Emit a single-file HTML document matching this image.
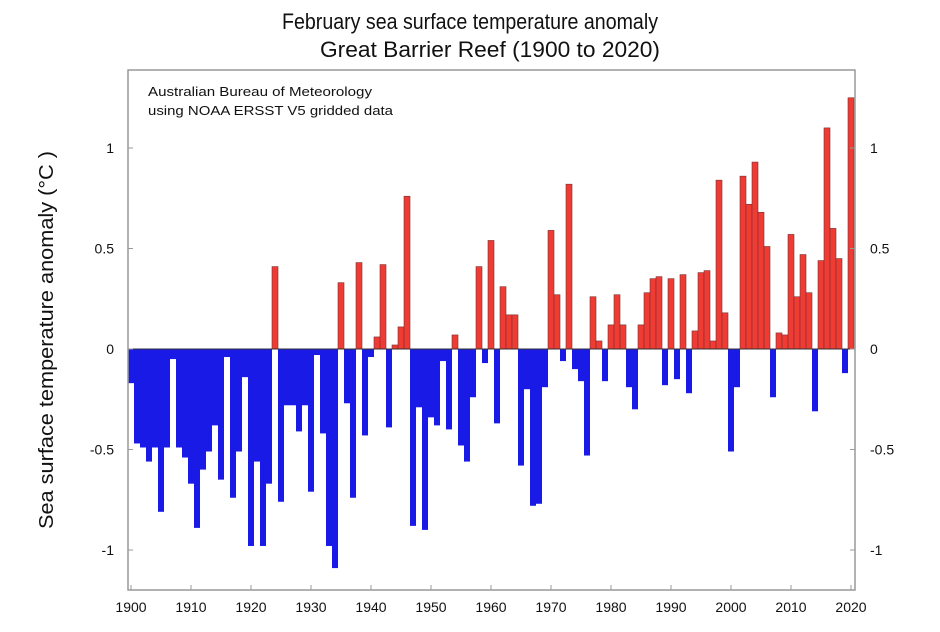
<!DOCTYPE html>
<html><head><meta charset="utf-8"><style>
body{margin:0;background:#fff;width:940px;height:627px;overflow:hidden}
svg text{font-family:"Liberation Sans",sans-serif}
</style></head><body>
<svg id="chart" width="940" height="627" xmlns="http://www.w3.org/2000/svg">
<text x="470" y="29" font-size="22" text-anchor="middle" fill="#111" textLength="376" lengthAdjust="spacingAndGlyphs">February sea surface temperature anomaly</text>
<text x="490" y="57" font-size="22" text-anchor="middle" fill="#111" textLength="340" lengthAdjust="spacingAndGlyphs">Great Barrier Reef (1900 to 2020)</text>
<text x="148" y="96" font-size="13" fill="#111" textLength="224" lengthAdjust="spacingAndGlyphs">Australian Bureau of Meteorology</text>
<text x="148" y="115" font-size="13" fill="#111" textLength="245" lengthAdjust="spacingAndGlyphs">using NOAA ERSST V5 gridded data</text>
<text transform="translate(53,340) rotate(-90)" font-size="20" text-anchor="middle" fill="#111" textLength="378" lengthAdjust="spacingAndGlyphs">Sea surface temperature anomaly (°C )</text>
<text x="478" y="642" font-size="20" text-anchor="middle" fill="#111">Year</text>
<g id="bars"></g>
<g id="axes"></g>
</svg>
<script>
const years=[];for(let y=1900;y<=2020;y++)years.push(y);
const anomalies=[-0.17,-0.47,-0.49,-0.56,-0.49,-0.81,-0.49,-0.05,-0.49,-0.54,
-0.67,-0.89,-0.6,-0.51,-0.38,-0.65,-0.04,-0.74,-0.51,-0.14,
-0.98,-0.56,-0.98,-0.67,0.41,-0.76,-0.28,-0.28,-0.41,-0.28,
-0.71,-0.03,-0.42,-0.98,-1.09,0.33,-0.27,-0.74,0.43,-0.43,
-0.04,0.06,0.42,-0.39,0.02,0.11,0.76,-0.88,-0.29,-0.9,
-0.34,-0.38,-0.06,-0.4,0.07,-0.48,-0.56,-0.24,0.41,-0.07,
0.54,-0.37,0.31,0.17,0.17,-0.58,-0.2,-0.78,-0.77,-0.19,
0.59,0.27,-0.06,0.82,-0.1,-0.16,-0.53,0.26,0.04,-0.16,
0.12,0.27,0.12,-0.19,-0.3,0.12,0.28,0.35,0.36,-0.18,
0.35,-0.15,0.37,-0.22,0.09,0.38,0.39,0.04,0.84,0.18,
-0.51,-0.19,0.86,0.72,0.93,0.68,0.51,-0.24,0.08,0.07,
0.57,0.26,0.47,0.28,-0.31,0.44,1.1,0.6,0.45,-0.12,1.25];
const yTicks=[1,0.5,0,-0.5,-1];
const yTickLabels=["1","0.5","0","-0.5","-1"];
const xTicks=[1900,1910,1920,1930,1940,1950,1960,1970,1980,1990,2000,2010,2020];
const NS="http://www.w3.org/2000/svg";
const L=128,R=855,T=70,B=590;
const xs=y=>131+6*(y-1900);
const ys=v=>349-201*v;
function mk(tag,attrs,parent){const e=document.createElementNS(NS,tag);for(const k in attrs)e.setAttribute(k,attrs[k]);parent.appendChild(e);return e;}
const bars=document.getElementById('bars'),axes=document.getElementById('axes');
years.forEach((yr,i)=>{const v=anomalies[i];const y0=ys(0),y1=ys(v);
 const r=mk('rect',{x:xs(yr)-3,y:Math.min(y0,y1),width:6,height:Math.abs(y1-y0),fill:v>=0?'#ee3b33':'#1a1ae6',stroke:v>=0?'#7a3030':'none','stroke-width':0.6},bars);
 
 });
mk('line',{x1:L,y1:ys(0),x2:R,y2:ys(0),stroke:'#333','stroke-width':1},axes);
const fr=mk('rect',{x:L,y:T,width:R-L,height:B-T,fill:'none',stroke:'#999','stroke-width':1.5},axes);


yTicks.forEach((v,i)=>{const y=ys(v);
 mk('line',{x1:L,y1:y,x2:L+5,y2:y,stroke:'#999'},axes);
 mk('line',{x1:R-5,y1:y,x2:R,y2:y,stroke:'#999'},axes);
 const t=mk('text',{x:114,y:y+5,'font-size':14,'text-anchor':'end',fill:'#111'},axes);t.textContent=yTickLabels[i];
 
 
 const t2=mk('text',{x:870,y:y+5,'font-size':14,fill:'#111'},axes);t2.textContent=yTickLabels[i];
 
 });
xTicks.forEach(yr=>{const x=xs(yr);
 mk('line',{x1:x,y1:B,x2:x,y2:B-5,stroke:'#999'},axes);
 const t=mk('text',{x:x,y:612,'font-size':14,'text-anchor':'middle',fill:'#111'},axes);t.textContent=yr;
 
 });
</script>
</body></html>
